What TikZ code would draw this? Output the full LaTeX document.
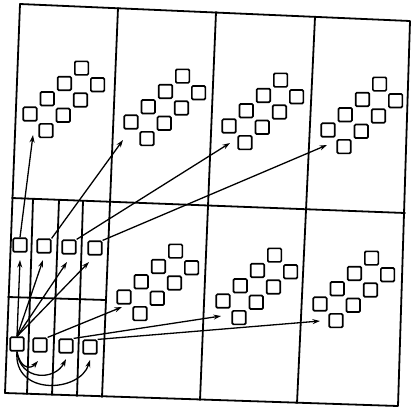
\documentclass[tikz,border=0pt]{standalone}
\usetikzlibrary{arrows.meta}
\begin{document}
\begin{tikzpicture}[x=1pt,y=-1pt,
  sq/.style={draw, line width=1.7pt, minimum size=13.5pt, inner sep=0pt, rounded corners=1.2pt},
  gridline/.style={line width=1.8pt, line join=round, line cap=round},
  arr/.style={line width=1.3pt, -{Stealth[length=7.5pt,width=5pt]}},
]
\useasboundingbox (0,0) rectangle (411,408);

% outer frame and grid
\coordinate (TL) at (20,4);
\coordinate (TR) at (410,21);
\coordinate (BR) at (398,406);
\coordinate (BL) at (5,393);
\draw[gridline] (TL) -- (TR) -- (BR) -- (BL) -- cycle;
\coordinate (c1t) at (118,8);   \coordinate (c1b) at (102,397);
\coordinate (c2t) at (216,12);  \coordinate (c2b) at (200,400);
\coordinate (c3t) at (315,17);  \coordinate (c3b) at (297,403);
\draw[gridline] (c1t) -- (c1b);
\draw[gridline] (c2t) -- (c2b);
\draw[gridline] (c3t) -- (c3b);
\coordinate (ml) at (12,198);   \coordinate (mr) at (405,213);
\draw[gridline] (ml) -- (mr);
% subdivision of the lower-left cell
\coordinate (s1t) at (33,199);  \coordinate (s1b) at (27,394);
\coordinate (s2t) at (59,200);  \coordinate (s2b) at (52,395);
\coordinate (s3t) at (83,201);  \coordinate (s3b) at (77,396);
\draw[gridline] (s1t) -- (s1b);
\draw[gridline] (s2t) -- (s2b);
\draw[gridline] (s3t) -- (s3b);
\coordinate (hl) at (8,297);    \coordinate (hr) at (106,300);
\draw[gridline] (hl) -- (hr);

% clusters of eight squares
\foreach \nm/\bx/\by in {T1/30/114, T2/131/122, T3/229/126, T4/328/130,
                         B2/124/297, B3/223/301, B4/320/304}{
  \foreach \i in {0,...,3}{
    \node[sq] (\nm-a\i) at ({\bx+17.2*\i},{\by-15.3*\i}) {};
    \node[sq] (\nm-b\i) at ({\bx+16+17.2*\i},{\by+16.6-15.3*\i}) {};
  }
}

% squares of the lower-left cell
\node[sq] (t1) at (20,245) {};
\node[sq] (t2) at (44,246) {};
\node[sq] (t3) at (69,247) {};
\node[sq] (t4) at (95,248) {};
\node[sq] (b1) at (17,344) {};
\node[sq] (b2) at (40,345) {};
\node[sq] (b3) at (66,346) {};
\node[sq] (b4) at (90,347) {};

% arrow tips
\coordinate (tipT1) at (33,135);
\coordinate (tipT2) at (123,140);
\coordinate (tipT3) at (230,143);
\coordinate (tipT4) at (327,145);
\coordinate (tipB2) at (122,307);
\coordinate (tipB3) at (221,316);
\coordinate (tipB4) at (320,321);
\coordinate (f1) at (20,260);
\coordinate (f2) at (43,260);
\coordinate (f3) at (67,262);
\coordinate (f4) at (89,262);
\coordinate (k2) at (38,361);
\coordinate (k3) at (66,359);
\coordinate (k4) at (90,360);

% fan from b1 to the upper row
\draw[arr] (b1.north) -- (f1);
\draw[arr] (b1.north) -- (f2);
\draw[arr] (b1.north) -- (f3);
\draw[arr] (b1.north) -- (f4);

% upper row to the upper clusters
\draw[arr] (t1.north) -- (tipT1);
\draw[arr] (t2.north east) -- (tipT2);
\draw[arr] (t3.north east) -- (tipT3);
\draw[arr] (t4.north east) -- (tipT4);

% lower row to the lower clusters
\draw[arr] (b2.north east) -- (tipB2);
\draw[arr] (b3.north east) -- (tipB3);
\draw[arr] (b4.north east) -- (tipB4);

% curved arrows under the lower row
\draw[arr] (b1.south) .. controls (20,368) and (30,370) .. (k2);
\draw[arr] (b1.south) .. controls (20,381) and (55,381) .. (k3);
\draw[arr] (b1.south) .. controls (13,396) and (80,393) .. (k4);
\end{tikzpicture}
\end{document}
